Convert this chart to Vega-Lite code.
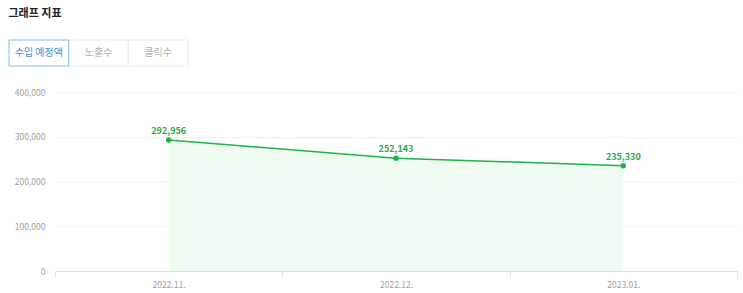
{
  "$schema": "https://vega.github.io/schema/vega-lite/v6.json",
  "padding": {"left": 8, "top": 7, "right": 0, "bottom": 0},
  "title": {"text": "그래프 지표", "anchor": "start", "fontSize": 11, "fontWeight": "bold", "color": "#222222", "offset": 21, "font": "Noto Sans CJK KR"},
  "spacing": 21,
  "config": {
    "view": {"stroke": null},
    "font": "Noto Sans CJK KR"
  },
  "vconcat": [
    {
      "width": 133,
      "height": 26,
      "data": {"values": [
        {"tab": "수입 예정액", "active": "yes"},
        {"tab": "노출수", "active": "no"},
        {"tab": "클릭수", "active": "no"}
      ]},
      "encoding": {
        "x": {"field": "tab", "type": "nominal", "sort": null, "scale": {"domain": ["수입 예정액", "노출수", "클릭수"], "range": [-46, 133], "paddingInner": 0, "paddingOuter": 0}, "axis": null}
      },
      "layer": [
        {
          "transform": [{"filter": "datum.active == 'no'"}],
          "mark": {"type": "rect", "fill": "white", "stroke": "#e8e8e8", "strokeWidth": 1}
        },
        {
          "transform": [{"filter": "datum.active == 'yes'"}],
          "mark": {"type": "rect", "fill": "white", "stroke": "#7fbfe8", "strokeWidth": 1}
        },
        {
          "mark": {"type": "text", "fontSize": 10, "baseline": "middle"},
          "encoding": {
            "text": {"field": "tab"},
            "color": {"field": "active", "type": "nominal", "scale": {"domain": ["yes", "no"], "range": ["#3d95e0", "#b0b0b0"]}, "legend": null}
          }
        }
      ]
    },
    {
      "width": 682,
      "height": 179,
      "data": {"values": [
        {"month": "2022.11.", "value": 292956},
        {"month": "2022.12.", "value": 252143},
        {"month": "2023.01.", "value": 235330}
      ]},
      "encoding": {
        "x": {"field": "month", "type": "ordinal", "sort": null, "scale": {"paddingInner": 0, "paddingOuter": 0},
          "axis": {"title": null, "labelAngle": 0, "labelColor": "#a0a0a0", "labelFontSize": 8.5, "labelPadding": 3, "tickBand": "extent", "tickSize": 6, "tickColor": "#dde3ea", "domainColor": "#d8dfe6", "grid": false}},
        "y": {"field": "value", "type": "quantitative", "scale": {"domain": [0, 400000]},
          "axis": {"title": null, "values": [0, 100000, 200000, 300000, 400000], "format": ",.0f", "labelColor": "#a0a0a0", "labelFontSize": 8.5, "labelPadding": 10, "domain": false, "ticks": false, "gridColor": "#eeeeee", "minExtent": 46}}
      },
      "layer": [
        {
          "mark": {"type": "area", "color": "#effaf1", "opacity": 1},
          "encoding": {"y2": {"datum": 0}}
        },
        {
          "mark": {"type": "line", "color": "#1db446", "strokeWidth": 1.5}
        },
        {
          "mark": {"type": "point", "filled": true, "color": "#1db446", "size": 30, "opacity": 1}
        },
        {
          "mark": {"type": "text", "color": "#2aa84a", "fontSize": 9, "fontWeight": "bold", "dy": -9},
          "encoding": {"text": {"field": "value", "type": "quantitative", "format": ","}}
        }
      ]
    }
  ]
}
